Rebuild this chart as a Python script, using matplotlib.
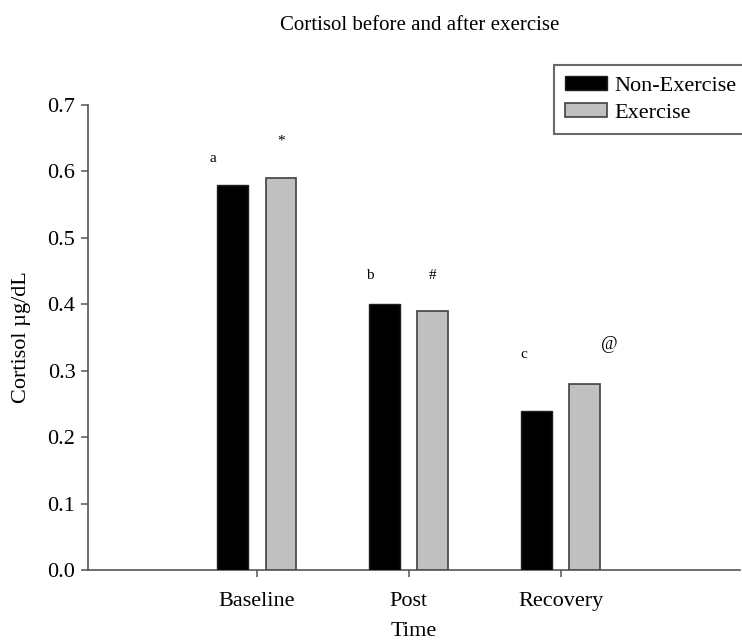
import matplotlib
matplotlib.use("Agg")
import matplotlib.pyplot as plt
import numpy as np

categories = ["Baseline", "Post", "Recovery"]
series_names = ["Non-Exercise", "Exercise"]
non_exercise = [0.58, 0.40, 0.24]
exercise = [0.59, 0.39, 0.28]
marks_non = ["a", "b", "c"]
marks_ex = ["*", "#", "@"]

plt.rcParams['font.family'] = ['Liberation Serif', 'DejaVu Serif']

fig = plt.figure(figsize=(7.42, 6.43), dpi=100)
ax = fig.add_axes([88/742, 1-570/643, (740-88)/742, (570-105)/643])

x = np.arange(len(categories))
w = 0.2
off = 0.158
ax.bar(x - off, non_exercise, w, color='black', edgecolor='#202020', linewidth=1, label=series_names[0], zorder=3)
ax.bar(x + off, exercise, w, color='#c0c0c0', edgecolor='#404040', linewidth=1.2, label=series_names[1], zorder=3)

# significance markers
dx_non = [-0.13, -0.10, -0.085]
dy_non = [0.04, 0.043, 0.085]
dx_ex = [0.005, 0.0, 0.16]
dy_ex = [0.055, 0.053, 0.059]
for i in range(len(categories)):
    ax.text(x[i] - off + dx_non[i], non_exercise[i] + dy_non[i], marks_non[i],
            ha='center', va='center', fontsize=11)
    ax.text(x[i] + off + dx_ex[i], exercise[i] + dy_ex[i], marks_ex[i],
            ha='center', va='center', fontsize=13 if marks_ex[i] == '@' else 11)

ax.set_xlim(-1.11, 3.18)
ax.set_ylim(0, 0.7)
ax.set_yticks(np.arange(0, 0.71, 0.1))
ax.set_yticklabels([f"{v:.1f}" for v in np.arange(0, 0.71, 0.1)])
ax.set_xticks(x)
ax.set_xticklabels(categories)

for s in ['top', 'right']:
    ax.spines[s].set_visible(False)
for s in ['left', 'bottom']:
    ax.spines[s].set_color('#555555')
    ax.spines[s].set_linewidth(1.2)
ax.tick_params(axis='both', direction='out', length=5, width=1.1, color='#555555', labelsize=16)
ax.tick_params(axis='x', pad=11)
ax.tick_params(axis='y', pad=4)

ax.set_ylabel("Cortisol µg/dL", fontsize=16, labelpad=12)
fig.text(414/742, 1-632/643, "Time", ha='center', va='center', fontsize=16)

fig.text(420/742, 1-25/643, "Cortisol before and after exercise", ha='center', va='center', fontsize=15)

leg = fig.legend(loc='upper left', bbox_to_anchor=(554/742, 1-65/643), fontsize=16,
                 frameon=True, fancybox=False, handlelength=1.9, handleheight=0.6,
                 handletextpad=0.3, borderpad=0.5, labelspacing=0.3, borderaxespad=0)
leg.get_frame().set_edgecolor('#444444')
leg.get_frame().set_linewidth(1.5)

fig.savefig("out.png", dpi=100)
